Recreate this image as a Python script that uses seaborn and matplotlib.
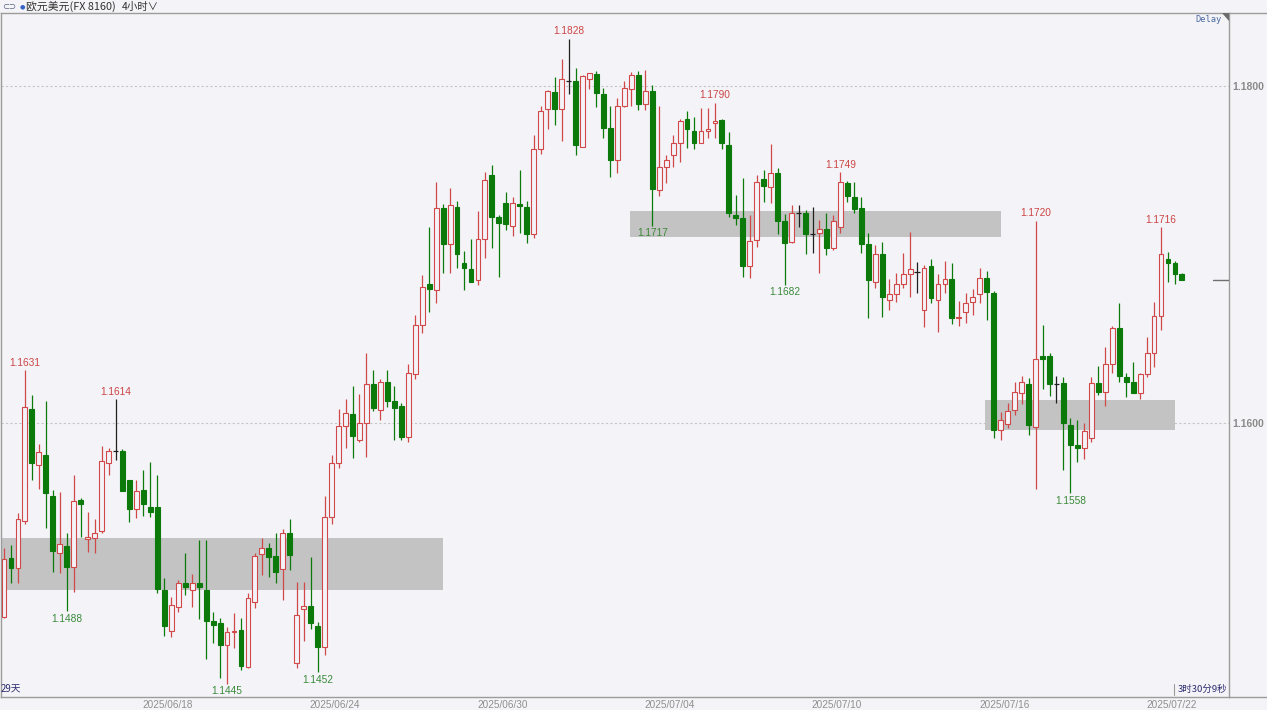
import numpy as np
import matplotlib
matplotlib.use("Agg")
import matplotlib.pyplot as plt
from matplotlib.lines import Line2D
from matplotlib.patches import Polygon
import seaborn as sns

# EUR/USD, 4-hour bars
opens = [
    1.14849, 1.15199, 1.15139, 1.15418, 1.16080, 1.15749, 1.15810, 1.15567, 1.15225, 1.15268,
    1.15145, 1.15541, 1.15310, 1.15317, 1.15359, 1.15759, 1.15834, 1.15832, 1.15660, 1.15488,
    1.15601, 1.15498, 1.15500, 1.15007, 1.14766, 1.14908, 1.15047, 1.15007, 1.15047, 1.15007,
    1.14825, 1.14809, 1.14681, 1.14756, 1.14770, 1.14552, 1.14938, 1.15219, 1.15258, 1.15209,
    1.15130, 1.15347, 1.14572, 1.14896, 1.14912, 1.14793, 1.14667, 1.15439, 1.15759, 1.15980,
    1.16050, 1.15897, 1.15996, 1.16228, 1.16075, 1.16240, 1.16129, 1.16099, 1.15917, 1.16287,
    1.16580, 1.16821, 1.16788, 1.17272, 1.17061, 1.17282, 1.16950, 1.16910, 1.16847, 1.17088,
    1.17470, 1.17223, 1.17302, 1.17169, 1.17298, 1.17282, 1.17120, 1.17623, 1.17860, 1.17961,
    1.17860, 1.18030, 1.18030, 1.17638, 1.18038, 1.18070, 1.17951, 1.17751, 1.17559, 1.17880,
    1.17979, 1.18064, 1.17891, 1.17970, 1.17381, 1.17519, 1.17589, 1.17658, 1.17801, 1.17731,
    1.17658, 1.17731, 1.17781, 1.17797, 1.17648, 1.17233, 1.17213, 1.16932, 1.17084, 1.17445,
    1.17401, 1.17480, 1.17197, 1.17074, 1.17243, 1.17243, 1.17120, 1.17128, 1.17148, 1.17035,
    1.17160, 1.17421, 1.17341, 1.17272, 1.17061, 1.16837, 1.17001, 1.16728, 1.16762, 1.16821,
    1.16881, 1.16896, 1.16669, 1.16930, 1.16728, 1.16821, 1.16851, 1.16620, 1.16659, 1.16718,
    1.16762, 1.16857, 1.16772, 1.15957, 1.15992, 1.16075, 1.16178, 1.16230, 1.15976, 1.16398,
    1.16398, 1.16228, 1.16237, 1.15986, 1.15868, 1.15848, 1.15907, 1.16237, 1.16184, 1.16348,
    1.16560, 1.16269, 1.16243, 1.16178, 1.16287, 1.16415, 1.16635, 1.16970, 1.16950, 1.16881,
]
highs = [
    1.15255, 1.15274, 1.15466, 1.16310, 1.16164, 1.15874, 1.16129, 1.15601, 1.15590, 1.15347,
    1.15690, 1.15551, 1.15472, 1.15428, 1.15862, 1.15852, 1.16140, 1.15842, 1.15660, 1.15660,
    1.15719, 1.15769, 1.15690, 1.15080, 1.14964, 1.15066, 1.15228, 1.15102, 1.15304, 1.15304,
    1.14878, 1.14843, 1.14789, 1.14869, 1.14839, 1.14987, 1.15228, 1.15314, 1.15284, 1.15344,
    1.15367, 1.15427, 1.15056, 1.15056, 1.15201, 1.14819, 1.15567, 1.15808, 1.16080, 1.16141,
    1.16220, 1.16170, 1.16412, 1.16313, 1.16259, 1.16313, 1.16220, 1.16119, 1.16348, 1.16639,
    1.16877, 1.17163, 1.17427, 1.17296, 1.17391, 1.17316, 1.17021, 1.17088, 1.17258, 1.17486,
    1.17529, 1.17233, 1.17367, 1.17341, 1.17500, 1.17316, 1.17708, 1.17880, 1.17975, 1.18050,
    1.18157, 1.18280, 1.18107, 1.18064, 1.18077, 1.18089, 1.17985, 1.17880, 1.17929, 1.18030,
    1.18083, 1.18089, 1.18093, 1.18004, 1.17880, 1.17589, 1.17708, 1.17801, 1.17852, 1.17816,
    1.17866, 1.17870, 1.17900, 1.17802, 1.17727, 1.17351, 1.17451, 1.17233, 1.17470, 1.17500,
    1.17652, 1.17510, 1.17237, 1.17292, 1.17292, 1.17262, 1.17282, 1.17203, 1.17243, 1.17233,
    1.17490, 1.17434, 1.17430, 1.17341, 1.17128, 1.17055, 1.17071, 1.16851, 1.16887, 1.17005,
    1.17130, 1.16956, 1.16936, 1.16970, 1.16883, 1.16960, 1.16950, 1.16722, 1.16768, 1.16792,
    1.16916, 1.16902, 1.16783, 1.16065, 1.16119, 1.16243, 1.16279, 1.16264, 1.17200, 1.16580,
    1.16415, 1.16279, 1.16269, 1.16026, 1.16016, 1.16000, 1.16273, 1.16338, 1.16451, 1.16576,
    1.16712, 1.16293, 1.16358, 1.16297, 1.16510, 1.16718, 1.17160, 1.17011, 1.16960, 1.16890,
]
lows = [
    1.14841, 1.15049, 1.15047, 1.15399, 1.15660, 1.15605, 1.15377, 1.15116, 1.15106, 1.14880,
    1.14997, 1.15323, 1.15234, 1.15225, 1.15344, 1.15690, 1.15779, 1.15596, 1.15409, 1.15436,
    1.15446, 1.15442, 1.14987, 1.14734, 1.14726, 1.14875, 1.14977, 1.14908, 1.14835, 1.14596,
    1.14691, 1.14483, 1.14450, 1.14661, 1.14532, 1.14546, 1.14898, 1.15096, 1.15086, 1.15047,
    1.14948, 1.15126, 1.14546, 1.14706, 1.14774, 1.14520, 1.14621, 1.15399, 1.15729, 1.15848,
    1.15789, 1.15887, 1.15798, 1.16069, 1.16016, 1.16095, 1.15897, 1.15897, 1.15887, 1.16258,
    1.16531, 1.16659, 1.16709, 1.16887, 1.16887, 1.16916, 1.16788, 1.16837, 1.16817, 1.16976,
    1.17035, 1.16867, 1.17144, 1.17108, 1.17124, 1.17068, 1.17094, 1.17595, 1.17741, 1.17767,
    1.17672, 1.17951, 1.17589, 1.17638, 1.17979, 1.17872, 1.17688, 1.17460, 1.17484, 1.17875,
    1.17880, 1.17856, 1.17856, 1.17170, 1.17347, 1.17424, 1.17519, 1.17549, 1.17629, 1.17624,
    1.17658, 1.17688, 1.17688, 1.17623, 1.17223, 1.17173, 1.16867, 1.16857, 1.17045, 1.17312,
    1.17306, 1.17118, 1.16820, 1.17065, 1.17163, 1.16999, 1.17005, 1.16887, 1.16995, 1.17025,
    1.17124, 1.17312, 1.17243, 1.17005, 1.16620, 1.16798, 1.16626, 1.16669, 1.16718, 1.16798,
    1.16748, 1.16768, 1.16566, 1.16712, 1.16540, 1.16768, 1.16586, 1.16574, 1.16590, 1.16639,
    1.16709, 1.16610, 1.15907, 1.15897, 1.15967, 1.16046, 1.16111, 1.15927, 1.15605, 1.16198,
    1.16158, 1.16115, 1.15719, 1.15580, 1.15769, 1.15783, 1.15887, 1.16164, 1.16099, 1.16293,
    1.16243, 1.16154, 1.16174, 1.16139, 1.16269, 1.16329, 1.16550, 1.16837, 1.16823, 1.16847,
]
closes = [
    1.15189, 1.15139, 1.15427, 1.16091, 1.15759, 1.15828, 1.15581, 1.15239, 1.15280, 1.15145,
    1.15537, 1.15516, 1.15323, 1.15347, 1.15773, 1.15834, 1.15834, 1.15596, 1.15488, 1.15596,
    1.15516, 1.15470, 1.15015, 1.14795, 1.14918, 1.15047, 1.15023, 1.15047, 1.15023, 1.14825,
    1.14799, 1.14681, 1.14756, 1.14766, 1.14556, 1.14958, 1.15209, 1.15258, 1.15205, 1.15116,
    1.15347, 1.15215, 1.14859, 1.14912, 1.14809, 1.14667, 1.15439, 1.15759, 1.15980, 1.16059,
    1.15921, 1.15996, 1.16228, 1.16089, 1.16240, 1.16129, 1.16089, 1.15917, 1.16297, 1.16580,
    1.16807, 1.16792, 1.17272, 1.17061, 1.17292, 1.16999, 1.16916, 1.16837, 1.17088, 1.17440,
    1.17219, 1.17187, 1.17179, 1.17302, 1.17288, 1.17120, 1.17623, 1.17852, 1.17969, 1.17860,
    1.18038, 1.18030, 1.17648, 1.18059, 1.18074, 1.17959, 1.17747, 1.17559, 1.17880, 1.17988,
    1.18064, 1.17891, 1.17970, 1.17387, 1.17519, 1.17559, 1.17658, 1.17791, 1.17741, 1.17658,
    1.17731, 1.17743, 1.17791, 1.17658, 1.17243, 1.17217, 1.16930, 1.17078, 1.17427, 1.17407,
    1.17480, 1.17197, 1.17068, 1.17243, 1.17243, 1.17118, 1.17120, 1.17148, 1.17035, 1.17199,
    1.17430, 1.17345, 1.17267, 1.17061, 1.16847, 1.17001, 1.16748, 1.16762, 1.16823, 1.16881,
    1.16910, 1.16896, 1.16916, 1.16738, 1.16821, 1.16851, 1.16620, 1.16629, 1.16712, 1.16748,
    1.16857, 1.16777, 1.15957, 1.16016, 1.16069, 1.16184, 1.16243, 1.15986, 1.16378, 1.16378,
    1.16228, 1.16228, 1.16000, 1.15868, 1.15848, 1.15951, 1.16237, 1.16184, 1.16348, 1.16560,
    1.16279, 1.16243, 1.16178, 1.16289, 1.16415, 1.16635, 1.17001, 1.16950, 1.16881, 1.16847,
]

date_labels = ["2025/06/18", "2025/06/24", "2025/06/30", "2025/07/04",
               "2025/07/10", "2025/07/16", "2025/07/22"]
date_first_bar = [24, 48, 72, 96, 120, 144, 168]
price_ticks = [1.1600, 1.1800]

# supply / demand zones: first bar, last bar, lower price, upper price
zone_start = [-0.6, 89.8, 140.8]
zone_end = [63.0, 143.0, 168.0]
zone_low = [1.15007, 1.17100, 1.15957]
zone_high = [1.15317, 1.17258, 1.16135]

# bars whose swing high / swing low is annotated
high_marks = [3, 16, 81, 102, 120, 148, 166]
low_marks = [9, 32, 45, 93, 112, 153]

BG = "#f4f4f8"
UP = "#d04848"
DOWN = "#0b7a0b"
FLAT = "#202020"
ZONE = "#c3c3c3"
FRAME = "#9c9c9c"

sns.set_style("white", {"axes.facecolor": BG, "figure.facecolor": BG})
plt.rcParams["font.family"] = ["Liberation Sans", "Noto Sans CJK SC", "DejaVu Sans"]

W, H = 1267, 710
fig = plt.figure(figsize=(W / 100, H / 100), dpi=100, facecolor=BG)
left_px, right_px, top_px, bottom_px = 1, 1229, 13.3, 697
ax = fig.add_axes([left_px / W, 1 - bottom_px / H,
                   (right_px - left_px) / W, (bottom_px - top_px) / H])
ax.set_facecolor(BG)

o = np.array(opens)
h = np.array(highs)
l = np.array(lows)
c = np.array(closes)
x = np.arange(len(o))
up = c > o
down = c < o
flat = c == o

# zones behind the bars
for s, e, lo, hi in zip(zone_start, zone_end, zone_low, zone_high):
    ax.fill_between([s, e], lo, hi, color=ZONE, linewidth=0, zorder=1)

# grid at the labelled price levels
for p in price_ticks:
    ax.axhline(p, color="#c6c6c6", lw=0.8, ls=(0, (2, 2)), zorder=0.5)

wick_colors = np.where(up, UP, np.where(down, DOWN, FLAT))
ax.vlines(x, l, h, colors=wick_colors, lw=0.9, zorder=2)
ax.bar(x[up], (c - o)[up], bottom=o[up], width=0.7, facecolor=BG,
       edgecolor=UP, linewidth=0.8, zorder=3)
ax.bar(x[down], (o - c)[down], bottom=c[down], width=0.7, facecolor=DOWN,
       edgecolor=DOWN, linewidth=0.8, zorder=3)
ax.hlines(c[flat], x[flat] - 0.38, x[flat] + 0.38, colors=FLAT, lw=0.9, zorder=3)

# swing annotations
for i in high_marks:
    ax.annotate(f"{highs[i]:.4f}", (i, highs[i]), xytext=(0, 1.5),
                textcoords="offset points", ha="center", va="bottom",
                fontsize=7.3, color="#cc4444", zorder=5)
for i in low_marks:
    ax.annotate(f"{lows[i]:.4f}", (i, lows[i]), xytext=(0, -1.8),
                textcoords="offset points", ha="center", va="top",
                fontsize=7.3, color="#3a8a3a", zorder=5)

# last price marker on the right edge
ax.axhline(closes[-1], xmin=0.987, xmax=1.0, color="#707070", lw=1.0, zorder=4)

spacing = 6.97
ax.set_xlim((left_px - 4) / spacing, (right_px - 4) / spacing)
ax.set_ylim(1.16 - (bottom_px - 422.7) * 0.02 / 337, 1.16 + (422.7 - top_px) * 0.02 / 337)

ax.yaxis.tick_right()
ax.set_yticks(price_ticks)
ax.set_yticklabels([f"{p:.4f}" for p in price_ticks])
ax.tick_params(axis="y", length=0, pad=2.5, labelsize=7.5, labelcolor="#8a8a8a")
for t in ax.get_yticklabels():
    t.set_fontweight("bold")
ax.set_xticks([b - 0.5 for b in date_first_bar])
ax.set_xticklabels(date_labels)
ax.tick_params(axis="x", length=0, pad=2, labelsize=7.2, labelcolor="#8e8e8e")

for sp in ax.spines.values():
    sp.set_visible(True)
    sp.set_color(FRAME)
    sp.set_linewidth(1.0)

# header strip and frame extensions
fig.add_artist(Line2D([right_px / W, 1], [1 - top_px / H] * 2, color=FRAME, lw=1.0))
fig.add_artist(Line2D([right_px / W, 1], [1 - bottom_px / H] * 2, color=FRAME, lw=1.0))
fig.add_artist(Polygon([[1222 / W, 1 - top_px / H], [right_px / W, 1 - top_px / H],
                        [right_px / W, 1 - 20.5 / H]], closed=True,
                       facecolor="#6c6c6c", edgecolor="none"))

def fx(px):
    return px / W

def fy(py):
    return 1 - py / H

fig.text(fx(2), fy(6.5), "⊂⊃", fontsize=6, color="#556080", va="center",
         family=["DejaVu Sans"])
fig.text(fx(20), fy(6.5), "●", fontsize=4.5, color="#3563c8", va="center",
         family=["DejaVu Sans"])
fig.text(fx(26), fy(6.5), "欧元美元(FX 8160)", fontsize=7.8, color="#303030",
         va="center", family=["Noto Sans CJK SC", "DejaVu Sans"])
fig.text(fx(122), fy(6.5), "4小时∨", fontsize=7.5, color="#303030",
         va="center", family=["Noto Sans CJK SC", "DejaVu Sans"])
fig.text(fx(1222), fy(19.5), "Delay", fontsize=6.3, color="#4a68a0",
         ha="right", va="center", family=["DejaVu Sans Mono"])
fig.text(fx(1), fy(689), "29天", fontsize=7, color="#2c2c70", va="center",
         family=["Noto Sans CJK SC", "DejaVu Sans"])
fig.text(fx(1227), fy(689), "3时30分9秒", fontsize=6.8, color="#2c2c70",
         ha="right", va="center", family=["Noto Sans CJK SC", "DejaVu Sans"])
fig.add_artist(Line2D([fx(1174)] * 2, [fy(684), fy(695)], color="#9a9a9a", lw=0.8))

fig.savefig("out.png", dpi=100, facecolor=BG)
